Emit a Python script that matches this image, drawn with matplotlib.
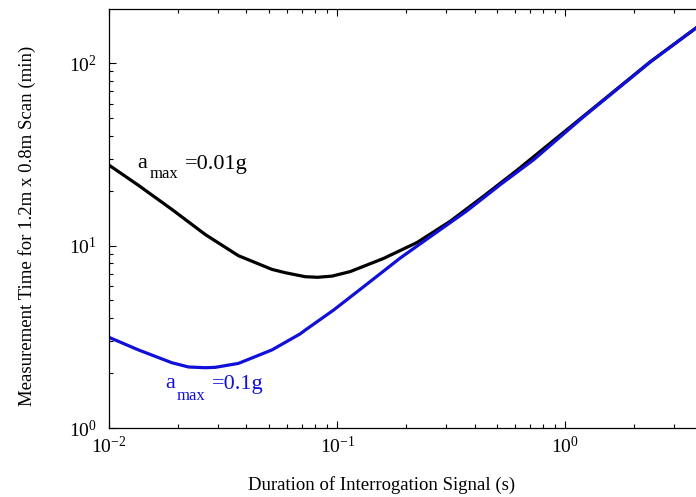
import matplotlib
matplotlib.use("Agg")
import matplotlib.pyplot as plt
from matplotlib.ticker import LogLocator, FixedLocator, FixedFormatter, NullFormatter

plt.rcParams["font.family"] = ["Liberation Serif", "DejaVu Serif"]
plt.rcParams["mathtext.fontset"] = "custom"
plt.rcParams["mathtext.rm"] = "Liberation Serif"

t_slow = [0.01, 0.01345, 0.01884, 0.0264, 0.0369, 0.0518, 0.0592, 0.0724, 0.082,
          0.0949, 0.114, 0.1596, 0.224, 0.313, 0.439, 0.614, 1.2, 2.36, 3.79]
T_slow = [27.6, 21.4, 15.8, 11.5, 8.8, 7.4, 7.1, 6.75, 6.7,
          6.8, 7.2, 8.5, 10.4, 13.6, 18.7, 25.9, 51.2, 102, 158]

t_fast = [0.01, 0.01345, 0.01884, 0.0223, 0.0264, 0.0292, 0.0369, 0.0518, 0.0688,
          0.0724, 0.0964, 0.135, 0.189, 0.264, 0.370, 0.519, 0.727, 1.2, 2.36, 3.79]
T_fast = [3.14, 2.68, 2.28, 2.16, 2.14, 2.15, 2.26, 2.68, 3.28,
          3.44, 4.43, 6.15, 8.55, 11.5, 15.5, 21.6, 29.6, 50.8, 101.7, 158]

x_ticks = [1e-2, 1e-1, 1e0]
x_labels = [r"$\mathregular{10^{-2}}$", r"$\mathregular{10^{-1}}$", r"$\mathregular{10^{0}}$"]
y_ticks = [1e0, 1e1, 1e2]
y_labels = [r"$\mathregular{10^{0}}$", r"$\mathregular{10^{1}}$", r"$\mathregular{10^{2}}$"]

W, H = 696, 497
BLUE = "#1010d8"
fig = plt.figure(figsize=(W / 100, H / 100), dpi=100)
# right edge of the frame falls just outside the picture, as in the original crop
ax = fig.add_axes([109 / W, (H - 428) / H, (697.5 - 109) / W, (428 - 9) / H])

ax.plot(t_slow, T_slow, color="black", lw=2.3, solid_capstyle="butt")
ax.plot(t_fast, T_fast, color=BLUE, lw=2.3, solid_capstyle="butt")

ax.set_xscale("log")
ax.set_yscale("log")
ax.set_xlim(0.01, 3.79)
ax.set_ylim(1, 198)

ax.xaxis.set_major_locator(FixedLocator(x_ticks))
ax.xaxis.set_major_formatter(FixedFormatter(x_labels))
ax.yaxis.set_major_locator(FixedLocator(y_ticks))
ax.yaxis.set_major_formatter(FixedFormatter(y_labels))
ax.xaxis.set_minor_locator(LogLocator(base=10, subs=range(2, 10)))
ax.yaxis.set_minor_locator(LogLocator(base=10, subs=range(2, 10)))
ax.xaxis.set_minor_formatter(NullFormatter())
ax.yaxis.set_minor_formatter(NullFormatter())

ax.tick_params(which="both", direction="in", top=True, right=False, width=0.8)
ax.tick_params(which="major", length=5, labelsize=14)
ax.tick_params(which="minor", length=3)
ax.tick_params(axis="x", pad=6)
ax.tick_params(axis="y", pad=9)
for s in ax.spines.values():
    s.set_linewidth(0.9)


def px(x, y):
    return x / W, 1 - y / H


# curve labels
fig.text(*px(137, 168), "a", fontsize=16, ha="left", va="baseline")
fig.text(*px(150, 178), "max", fontsize=12, ha="left", va="baseline")
fig.text(*px(185, 169), "=0.01g", fontsize=16, ha="left", va="baseline")

fig.text(*px(165, 388), "a", fontsize=16, ha="left", va="baseline", color=BLUE)
fig.text(*px(177, 400), "max", fontsize=12, ha="left", va="baseline", color=BLUE)
fig.text(*px(212, 389), "=0.1g", fontsize=16, ha="left", va="baseline", color=BLUE)

fig.text(*px(382, 485), "Duration of Interrogation Signal (s)", fontsize=13.5,
         ha="center", va="center")
fig.text(*px(27, 226), "Measurement Time for 1.2m x 0.8m Scan (min)", fontsize=13.5,
         ha="center", va="center", rotation=90)

fig.savefig("out.png", dpi=100)
